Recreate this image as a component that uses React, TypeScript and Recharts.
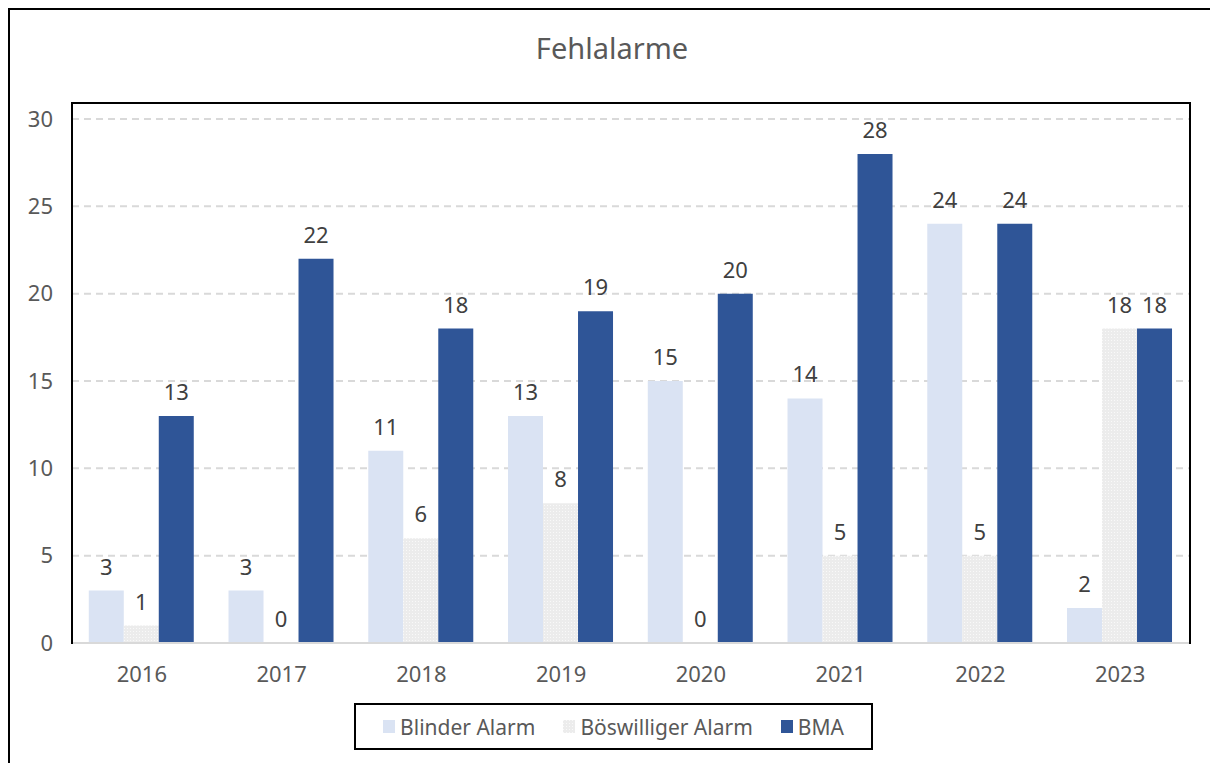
import React from 'react';
import { BarChart, Bar, XAxis, YAxis, CartesianGrid, LabelList } from 'recharts';

const years = ['2016', '2017', '2018', '2019', '2020', '2021', '2022', '2023'];
const blinderAlarm = [3, 3, 11, 13, 15, 14, 24, 2];
const boeswilligerAlarm = [1, 0, 6, 8, 0, 5, 5, 18];
const bma = [13, 22, 18, 19, 20, 28, 24, 18];
const yTicks = [0, 5, 10, 15, 20, 25, 30];

const data = years.map((year, i) => ({
  year,
  blinder: blinderAlarm[i],
  boeswillig: boeswilligerAlarm[i],
  bma: bma[i],
}));

const FONT = '"Noto Sans", "Open Sans", sans-serif';
const TEXT = '#595959';
const LABEL = '#404040';

const legendItems = [
  { name: 'Blinder Alarm', fill: '#dae3f3' },
  { name: 'Böswilliger Alarm', fill: 'url(#legendDots)' },
  { name: 'BMA', fill: '#2f5597' },
];

const Legend = () => (
  <div
    style={{
      position: 'absolute',
      left: 344,
      top: 693,
      width: 519,
      height: 47,
      border: '2px solid #000',
      boxSizing: 'border-box',
      display: 'flex',
      alignItems: 'center',
      justifyContent: 'center',
      gap: 28,
      fontSize: 21,
      color: TEXT,
    }}
  >
    <svg width={0} height={0} style={{ position: 'absolute' }}>
      <defs>
        <pattern id="legendDots" width={3} height={3} patternUnits="userSpaceOnUse">
          <rect width={3} height={3} fill="#ececec" />
          <rect width={1} height={1} fill="#f9f9f9" />
        </pattern>
      </defs>
    </svg>
    {legendItems.map((item) => (
      <div key={item.name} style={{ display: 'flex', alignItems: 'center' }}>
        <svg width={12} height={13} style={{ marginRight: 5 }}>
          <rect width={12} height={13} fill={item.fill} />
        </svg>
        <span>{item.name}</span>
      </div>
    ))}
  </div>
);

export default function App() {
  return (
    <div
      style={{
        position: 'relative',
        width: 1208,
        height: 760,
        border: '2px solid #000',
        boxSizing: 'border-box',
        fontFamily: FONT,
        background: '#fff',
      }}
    >
      <div
        style={{
          position: 'absolute',
          top: 18,
          left: 0,
          width: '100%',
          textAlign: 'center',
          fontSize: 29,
          color: TEXT,
        }}
      >
        Fehlalarme
      </div>
      <BarChart
        width={1204}
        height={756}
        data={data}
        margin={{ top: 109, right: 24, bottom: 83, left: 0 }}
        barCategoryGap="12%"
        barGap={0}
      >
        <defs>
          <pattern id="dots" width={3} height={3} patternUnits="userSpaceOnUse">
            <rect width={3} height={3} fill="#ececec" />
            <rect width={1} height={1} fill="#f9f9f9" />
          </pattern>
        </defs>
        <CartesianGrid
          vertical={false}
          stroke="#d9d9d9"
          strokeWidth={2}
          strokeDasharray="7 5"
        />
        <XAxis
          dataKey="year"
          height={40}
          axisLine={{ stroke: '#d9d9d9', strokeWidth: 2 }}
          tickLine={false}
          tickSize={0}
          tickMargin={23}
          tick={{ fill: TEXT, fontSize: 22, fontFamily: FONT }}
        />
        <YAxis
          width={62}
          domain={[0, 30]}
          ticks={yTicks}
          axisLine={false}
          tickLine={false}
          tickSize={0}
          tickMargin={19}
          tick={{ fill: TEXT, fontSize: 22, fontFamily: FONT }}
        />
        <Bar dataKey="blinder" name="Blinder Alarm" fill="#dae3f3" isAnimationActive={false}>
          <LabelList dataKey="blinder" position="top" offset={16} fill={LABEL} fontSize={22} fontFamily={FONT} />
        </Bar>
        <Bar
          dataKey="boeswillig"
          name="Böswilliger Alarm"
          fill="url(#dots)"
          minPointSize={0.5}
          isAnimationActive={false}
        >
          <LabelList dataKey="boeswillig" position="top" offset={16} fill={LABEL} fontSize={22} fontFamily={FONT} />
        </Bar>
        <Bar dataKey="bma" name="BMA" fill="#2f5597" isAnimationActive={false}>
          <LabelList dataKey="bma" position="top" offset={16} fill={LABEL} fontSize={22} fontFamily={FONT} />
        </Bar>
      </BarChart>
      <div
        style={{
          position: 'absolute',
          left: 61,
          top: 92,
          width: 1120,
          height: 542,
          borderTop: '2px solid #000',
          borderLeft: '2px solid #000',
          borderRight: '2px solid #000',
          boxSizing: 'border-box',
          pointerEvents: 'none',
        }}
      />
      <Legend />
    </div>
  );
}
